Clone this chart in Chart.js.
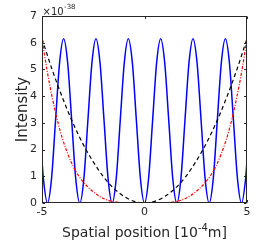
<!DOCTYPE html>
<html>
<head>
<meta charset="utf-8">
<script src="https://cdn.jsdelivr.net/npm/chart.js@4/dist/chart.umd.min.js"></script>
<style>
html,body{margin:0;padding:0;background:#fff;}
#wrap{width:275px;height:248px;position:relative;}
</style>
</head>
<body>
<div id="wrap"><canvas id="c" width="275" height="248"></canvas></div>
<script>
// ---- data ----
const xTicks = [-5, 0, 5];
const yTicks = [0, 1, 2, 3, 4, 5, 6, 7];
const xTitleMain = "Spatial position [10";
const xTitleSup = "-4";
const xTitleEnd = "m]";
const yTitle = "Intensity";
const yExpBase = "\u00d710";
const yExpSup = "-38";

// blue solid: fringe pattern
const blueX = [-5.0,-4.931,-4.734,-4.537,-4.340,-4.142,-3.945,-3.748,-3.551,-3.353,-3.156,-2.959,-2.762,-2.564,-2.367,-2.170,-1.973,-1.775,-1.578,-1.381,-1.184,-0.986,-0.789,-0.592,-0.395,-0.197,0,
  0.197,0.395,0.592,0.789,0.986,1.184,1.381,1.578,1.775,1.973,2.170,2.367,2.564,2.762,2.959,3.156,3.353,3.551,3.748,3.945,4.142,4.340,4.537,4.734,4.931,5.0];
const blueY = [1.57,0.90,0,0.90,3.08,5.25,6.15,5.25,3.08,0.90,0,0.90,3.08,5.25,6.15,5.25,3.08,0.90,0,0.90,3.08,5.25,6.15,5.25,3.08,0.90,0,
  0.90,3.08,5.25,6.15,5.25,3.08,0.90,0,0.90,3.08,5.25,6.15,5.25,3.08,0.90,0,0.90,3.08,5.25,6.15,5.25,3.08,0.90,0,0.90,1.57];

// black dashed
const blackX = [-5,-4.5,-4,-3.5,-3,-2.5,-2,-1.5,-1,-0.5,0,0.5,1,1.5,2,2.5,3,3.5,4,4.5,5];
const blackY = [6.15,4.98,3.94,3.01,2.21,1.54,0.98,0.55,0.25,0.06,0,0.06,0.25,0.55,0.98,1.54,2.21,3.01,3.94,4.98,6.15];

// red dash-dot
const redX = [-5,-4.75,-4.5,-4.25,-4,-3.5,-3,-2.5,-2,-1.5,-1,-0.5,0,0.5,1,1.5,2,2.5,3,3.5,4,4.25,4.5,4.75,5];
const redY = [6.15,4.95,3.95,3.10,2.40,1.40,0.80,0.42,0.17,0.05,0.01,0,0,0,0.01,0.05,0.17,0.42,0.80,1.40,2.40,3.10,3.95,4.95,6.15];

const pts = (xs, ys) => xs.map((x, i) => ({x: x, y: ys[i]}));
const TXT = '#262626';
const FONT = 'DejaVu Sans';

const decor = {
  id: 'decor',
  afterDraw(chart) {
    const ctx = chart.ctx;
    const a = chart.chartArea;
    const xs = chart.scales.x, ys = chart.scales.y;
    ctx.save();
    ctx.strokeStyle = '#262626';
    ctx.lineWidth = 1;
    const L = Math.round(a.left) + 0.5, R = Math.round(a.right) - 0.5;
    const T = Math.round(a.top) + 0.5, B = Math.round(a.bottom) - 0.5;
    ctx.strokeRect(L, T, R - L, B - T);
    ctx.beginPath();
    const tl = 2.5;
    xTicks.forEach(v => {
      const p = Math.round(xs.getPixelForValue(v)) + 0.5;
      ctx.moveTo(p, B); ctx.lineTo(p, B - tl);
      ctx.moveTo(p, T); ctx.lineTo(p, T + tl);
    });
    yTicks.forEach(v => {
      const p = Math.round(ys.getPixelForValue(v)) + 0.5;
      ctx.moveTo(L, p); ctx.lineTo(L + tl, p);
      ctx.moveTo(R, p); ctx.lineTo(R - tl, p);
    });
    ctx.stroke();

    ctx.fillStyle = TXT;
    // x title with superscript
    const big = '14px "' + FONT + '"', small = '10px "' + FONT + '"';
    ctx.font = big; const w1 = ctx.measureText(xTitleMain).width; const w3 = ctx.measureText(xTitleEnd).width;
    ctx.font = small; const w2 = ctx.measureText(xTitleSup).width;
    const tot = w1 + w2 + w3;
    let x0 = (a.left + a.right) / 2 - tot / 2;
    const by = 237;
    ctx.textBaseline = 'alphabetic'; ctx.textAlign = 'left';
    ctx.font = big; ctx.fillText(xTitleMain, x0, by);
    ctx.font = small; ctx.fillText(xTitleSup, x0 + w1, by - 6);
    ctx.font = big; ctx.fillText(xTitleEnd, x0 + w1 + w2, by);

    // y title
    ctx.save();
    ctx.translate(23, (a.top + a.bottom) / 2);
    ctx.rotate(-Math.PI / 2);
    ctx.textAlign = 'center'; ctx.textBaseline = 'middle';
    ctx.font = '15px "' + FONT + '"'; ctx.fillText(yTitle, 0, 0);
    ctx.restore();

    // exponent
    ctx.textAlign = 'left'; ctx.textBaseline = 'alphabetic';
    ctx.font = '10px "' + FONT + '"';
    const we = ctx.measureText(yExpBase).width;
    ctx.fillText(yExpBase, a.left + 0.5, 14.5);
    ctx.font = '7px "' + FONT + '"';
    ctx.fillText(yExpSup, a.left + 0.5 + we + 0.5, 9);
    ctx.restore();
  }
};

new Chart(document.getElementById('c'), {
  type: 'scatter',
  data: {
    datasets: [
      {data: pts(blueX, blueY), showLine: true, borderColor: '#0000ff', borderWidth: 1.5, pointRadius: 0, cubicInterpolationMode: 'monotone', order: 3},
      {data: pts(blackX, blackY), showLine: true, borderColor: '#000000', borderWidth: 1.2, borderDash: [4, 3], pointRadius: 0, cubicInterpolationMode: 'monotone', order: 2},
      {data: pts(redX, redY), showLine: true, borderColor: '#ff0000', borderWidth: 1.2, borderDash: [3, 1.5, 1, 1.5], pointRadius: 0, cubicInterpolationMode: 'monotone', order: 1}
    ]
  },
  options: {
    responsive: false,
    animation: false,
    devicePixelRatio: 1,
    layout: {padding: {left: 0, right: 28, top: 16, bottom: 0}},
    plugins: {legend: {display: false}, tooltip: {enabled: false}},
    scales: {
      x: {
        type: 'linear', min: -5, max: 5,
        afterBuildTicks: s => { s.ticks = xTicks.map(v => ({value: v})); },
        afterFit: s => { s.height = 45; },
        grid: {display: true, drawOnChartArea: false, drawTicks: false},
        border: {display: false},
        ticks: {padding: 3, color: TXT, font: {family: FONT, size: 11}, maxRotation: 0, autoSkip: false}
      },
      y: {
        type: 'linear', min: 0, max: 7,
        afterBuildTicks: s => { s.ticks = yTicks.map(v => ({value: v})); },
        afterFit: s => { s.width = 42; },
        grid: {display: true, drawOnChartArea: false, drawTicks: false},
        border: {display: false},
        ticks: {padding: 5, color: TXT, font: {family: FONT, size: 11}, autoSkip: false}
      }
    }
  },
  plugins: [decor]
});
</script>
</body>
</html>
